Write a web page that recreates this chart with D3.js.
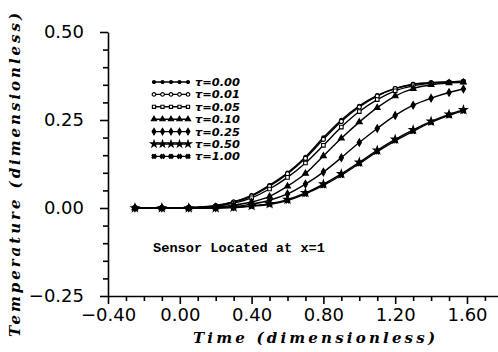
<!DOCTYPE html>
<html><head><meta charset="utf-8">
<script src="https://cdn.jsdelivr.net/npm/d3@7"></script>
<style>body{margin:0;background:#fff}svg{display:block}</style>
</head><body>
<svg id="c" width="498" height="352"></svg>
<script>
const times = [-0.25,-0.1,0.05,0.2,0.3,0.4,0.5,0.6,0.7,0.8,0.9,1.0,1.1,1.2,1.3,1.4,1.5,1.58];
const tauLabels = ["τ=0.00","τ=0.01","τ=0.05","τ=0.10","τ=0.25","τ=0.50","τ=1.00"];
const tau000 = [0,0,0.001,0.007,0.018,0.036,0.065,0.100,0.145,0.200,0.250,0.290,0.320,0.340,0.352,0.356,0.358,0.360];
const tau001 = [0,0,0.001,0.006,0.017,0.034,0.062,0.097,0.141,0.195,0.246,0.287,0.318,0.339,0.351,0.356,0.358,0.360];
const tau005 = [0,0,0.001,0.005,0.014,0.029,0.054,0.087,0.128,0.178,0.230,0.274,0.308,0.333,0.347,0.354,0.357,0.358];
const tau010 = [0,0,0,0.003,0.008,0.017,0.033,0.062,0.098,0.148,0.198,0.244,0.285,0.318,0.339,0.350,0.355,0.357];
const tau025 = [0,0,0,0.001,0.004,0.011,0.022,0.040,0.068,0.102,0.143,0.186,0.226,0.263,0.292,0.312,0.328,0.338];
const tau050 = [0,0,0,0,0.002,0.006,0.012,0.024,0.043,0.068,0.097,0.130,0.164,0.195,0.222,0.246,0.266,0.279];
const tau100 = [0,0,0,0,0.001,0.005,0.010,0.021,0.040,0.064,0.093,0.126,0.160,0.191,0.218,0.243,0.263,0.276];
const xMajor = [-0.40,0.00,0.40,0.80,1.20,1.60];
const xMinor = [-0.3,-0.2,-0.1,0.1,0.2,0.3,0.5,0.6,0.7,0.9,1.0,1.1,1.3,1.4,1.5,1.7];
const yMajor = [-0.25,0.00,0.25,0.50];
const yMinor = [-0.20,-0.15,-0.10,-0.05,0.05,0.10,0.15,0.20,0.30,0.35,0.40,0.45];
const xTitle = "Time (dimensionless)";
const yTitle = "Temperature (dimensionless)";
const note = "Sensor Located at x=1";

const series = [tau000,tau001,tau005,tau010,tau025,tau050,tau100];
const svg = d3.select("#c");
const x = d3.scaleLinear().domain([-0.4,1.77]).range([108,497.5]);
const y = d3.scaleLinear().domain([-0.25,0.5]).range([296,32]);
const fmt = d => (d<0?"−":"") + Math.abs(d).toFixed(2);

// axes
const gx = svg.append("g").attr("transform","translate(0,296)");
gx.call(d3.axisBottom(x).tickValues(xMinor).tickSize(5).tickFormat(""));
gx.call(g=>g.select(".domain").remove());
const gx2 = svg.append("g").attr("transform","translate(0,296)");
gx2.call(d3.axisBottom(x).tickValues(xMajor).tickSize(8).tickSizeOuter(0).tickPadding(4).tickFormat(fmt));
gx2.selectAll("text").attr("font-family","DejaVu Sans").attr("font-size",18).attr("fill","#000");
const gy = svg.append("g").attr("transform","translate(108,0)");
gy.call(d3.axisLeft(y).tickValues(yMinor).tickSize(5).tickFormat(""));
gy.call(g=>g.select(".domain").remove());
const gy2 = svg.append("g").attr("transform","translate(108,0)");
gy2.call(d3.axisLeft(y).tickValues(yMajor).tickSize(8).tickSizeOuter(0).tickPadding(16).tickFormat(fmt));
gy2.selectAll("text").attr("font-family","DejaVu Sans").attr("font-size",18).attr("fill","#000");
svg.selectAll(".tick line, .domain").attr("stroke","#000").attr("stroke-width",1.6);

// curves
const line = d3.line().x((d,i)=>x(times[i])).y(d=>y(d)).curve(d3.curveMonotoneX);
const symTypes = [d3.symbolCircle,d3.symbolCircle,d3.symbolSquare,d3.symbolTriangle,d3.symbolDiamond,d3.symbolStar,d3.symbolCross];
const symSizes = [9,13,13,15,16,18,13];
const symFill = ["#000","#fff","#fff","#000","#000","#000","#000"];
const symRot = [0,0,0,0,0,0,45];
function marker(g, i, px, py, k){
  g.append("path").attr("d",d3.symbol().type(symTypes[i]).size(symSizes[i]*k)())
   .attr("transform",`translate(${px},${py}) rotate(${symRot[i]})`)
   .attr("fill",symFill[i]).attr("stroke","#000").attr("stroke-width",1.1);
}
series.forEach((s,i)=>{
  const g = svg.append("g");
  g.append("path").attr("d",line(s)).attr("fill","none").attr("stroke","#000").attr("stroke-width",1.4);
  s.forEach((v,j)=>marker(g,i,x(times[j]),y(v),1));
});

// legend
const lg = svg.append("g");
tauLabels.forEach((t,i)=>{
  const ly = 82 + i*12.4;
  lg.append("line").attr("x1",152).attr("x2",190).attr("y1",ly).attr("y2",ly).attr("stroke","#000").attr("stroke-width",1.4);
  d3.range(5).forEach(k=>marker(lg,i,154+k*8.5,ly,0.8));
  lg.append("text").attr("x",195).attr("y",ly+4).text(t)
    .attr("font-family","DejaVu Sans").attr("font-weight","bold").attr("font-style","italic").attr("font-size",10.5)
    .attr("textLength",45).attr("lengthAdjust","spacingAndGlyphs");
});

svg.append("text").attr("x",153).attr("y",252).text(note)
  .attr("font-family","Liberation Mono").attr("font-weight","bold").attr("font-size",13.6)
  .attr("textLength",172).attr("lengthAdjust","spacingAndGlyphs");

svg.append("text").attr("x",193).attr("y",343).text(xTitle)
  .attr("font-family","DejaVu Serif").attr("font-style","italic").attr("font-weight","bold").attr("font-size",15)
  .attr("textLength",242).attr("lengthAdjust","spacing");
svg.append("text").attr("transform","translate(20,337) rotate(-90)").text(yTitle)
  .attr("font-family","DejaVu Serif").attr("font-style","italic").attr("font-weight","bold").attr("font-size",15)
  .attr("textLength",324).attr("lengthAdjust","spacing");
</script>
</body></html>
